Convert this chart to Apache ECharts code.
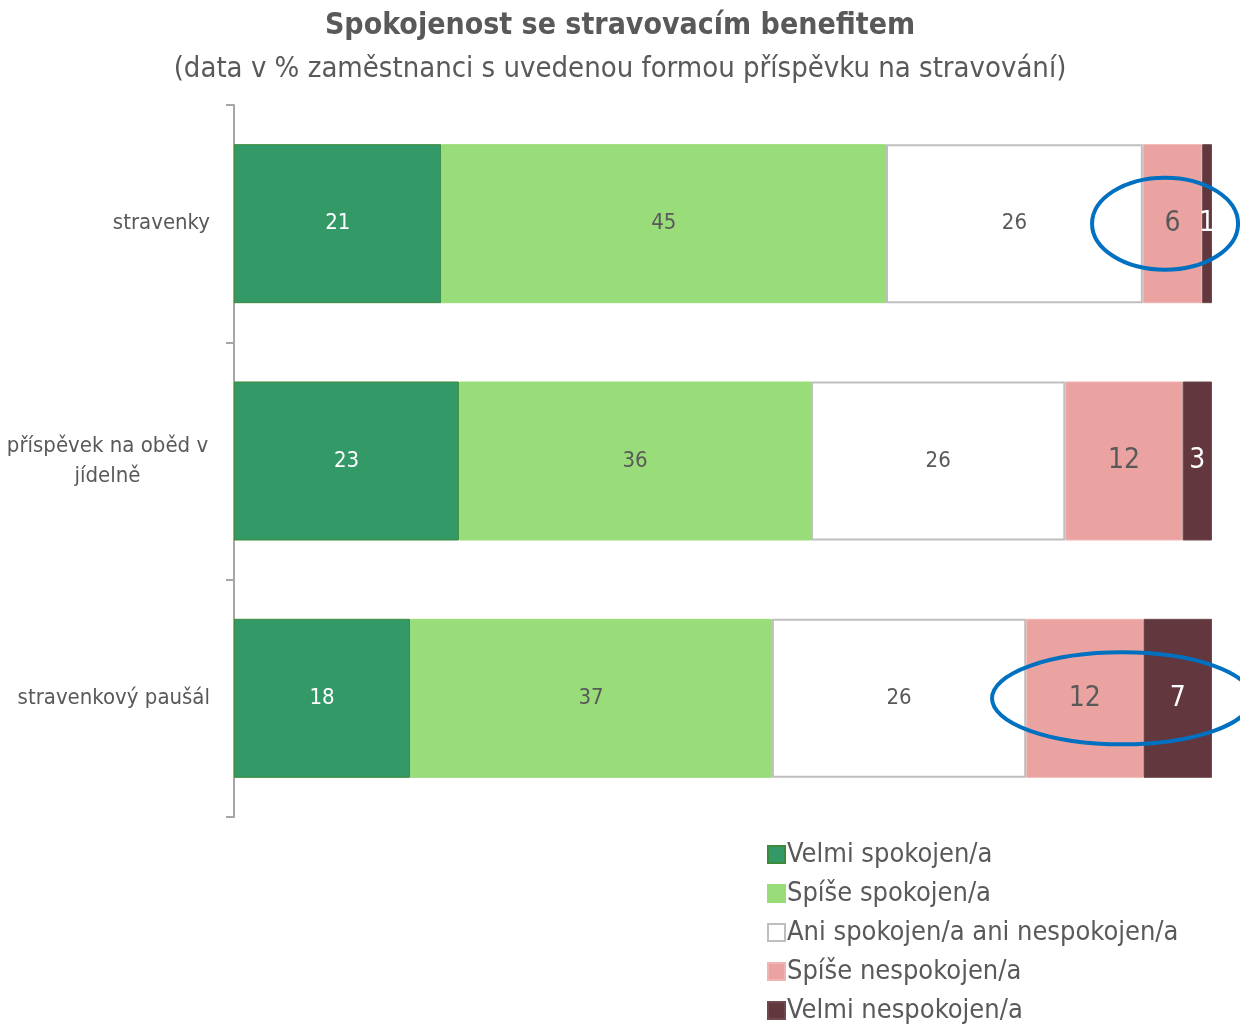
<!DOCTYPE html>
<html>
<head>
<meta charset="utf-8">
<script src="https://cdn.jsdelivr.net/npm/echarts@6/dist/echarts.min.js"></script>
<style>
  html, body { margin: 0; padding: 0; background: #fff; }
  #main { width: 1240px; height: 1027px; }
</style>
</head>
<body>
<div id="main"></div>
<script>
// kategorie (shora dolu)
const categories = ['stravenky', 'příspěvek na oběd v\njídelně', 'stravenkový paušál'];
const seriesNames = ['Velmi spokojen/a', 'Spíše spokojen/a', 'Ani spokojen/a ani nespokojen/a', 'Spíše nespokojen/a', 'Velmi nespokojen/a'];
const velmiSpokojen = [21, 23, 18];
const spiseSpokojen = [45, 36, 37];
const aniAni = [26, 26, 26];
const spiseNespokojen = [6, 12, 12];
const velmiNespokojen = [1, 3, 7];
// zvyraznene oblasti (kategorie, stred v %)
const highlightRows = [0, 2];
const highlightCenters = [95.2, 90.8];

const FONT = "'Liberation Sans Narrow', 'DejaVu Sans Condensed', sans-serif";
const GREY = '#595959';

const values = [velmiSpokojen, spiseSpokojen, aniAni, spiseNespokojen, velmiNespokojen];
const rowSums = categories.map((c, i) => values.reduce((s, v) => s + v[i], 0));

const colors = ['#339966', '#99DD7A', '#FFFFFF', '#EBA3A1', '#62373D'];
const borders = ['#3D8A3A', '#99DD7A', '#BFBFBF', '#F0B4B2', '#6E4A4E'];
const labelColors = ['#FFFFFF', GREY, GREY, GREY, '#FFFFFF'];
const labelSizes = [22, 22, 22, 28, 28];

var myChart = echarts.init(document.getElementById('main'));

let series = values.map(function (arr, k) {
    return {
        name: seriesNames[k],
        type: 'bar',
        stack: 'total',
        barWidth: '67%',
        itemStyle: {
            color: colors[k],
            borderColor: borders[k],
            borderWidth: k == 2 ? 2 : 1
        },
        label: {
            show: true,
            position: 'inside',
            color: labelColors[k],
            fontSize: labelSizes[k],
            fontFamily: FONT,
            formatter: function (p) { return arr[p.dataIndex]; }
        },
        data: arr.map(function (v, i) { return v / rowSums[i] * 100; })
    };
});

// modre elipsy
series.push({
    type: 'custom',
    name: 'highlight',
    silent: true,
    z: 10,
    clip: false,
    renderItem: function (params, api) {
        var c = api.coord([api.value(0), api.value(1)]);
        var rx = params.dataIndex == 0 ? 73 : 130;
        var ry = 46;
        var d = 'M' + (c[0] - rx) + ' ' + c[1] +
            ' A' + rx + ' ' + ry + ' 0 1 0 ' + (c[0] + rx) + ' ' + c[1] +
            ' A' + rx + ' ' + ry + ' 0 1 0 ' + (c[0] - rx) + ' ' + c[1] + ' Z';
        return {
            type: 'path',
            shape: { pathData: d },
            style: { fill: 'none', stroke: '#0070C0', lineWidth: 4 }
        };
    },
    encode: { x: 0, y: 1 },
    data: highlightRows.map(function (r, i) { return [highlightCenters[i], r]; })
});

var option = {
    animation: false,
    textStyle: { fontFamily: FONT },
    title: [
        {
            text: 'Spokojenost se stravovacím benefitem',
            left: 'center',
            top: 6,
            textStyle: { fontSize: 30, fontWeight: 'bold', color: GREY, fontFamily: FONT }
        },
        {
            text: '(data v % zaměstnanci s uvedenou formou příspěvku na stravování)',
            left: 'center',
            top: 50,
            textStyle: { fontSize: 29, fontWeight: 'normal', color: GREY, fontFamily: FONT }
        }
    ],
    legend: {
        orient: 'vertical',
        left: 762,
        top: 836,
        height: 260,
        itemWidth: 17,
        itemHeight: 17,
        itemGap: 12,
        icon: 'rect',
        data: seriesNames,
        textStyle: { fontSize: 27, color: GREY, fontFamily: FONT, padding: [0, 0, 0, -3] }
    },
    grid: { left: 234, right: 28, top: 105, bottom: 210, containLabel: false },
    xAxis: {
        type: 'value',
        min: 0,
        max: 100,
        show: false
    },
    yAxis: {
        type: 'category',
        inverse: true,
        data: categories,
        axisLine: { show: true, lineStyle: { color: '#A6A6A6', width: 2 } },
        axisTick: { show: true, length: 8, lineStyle: { color: '#A6A6A6', width: 2 } },
        axisLabel: {
            fontSize: 22,
            color: GREY,
            fontFamily: FONT,
            margin: 24,
            align: 'right',
            lineHeight: 30,
            formatter: function (v) {
                if (v.indexOf('\n') < 0) return v;
                return v.split('\n').map(function (s) { return '{c|' + s + '}'; }).join('\n');
            },
            rich: {
                c: { width: 205, align: 'center', fontSize: 22, color: GREY, fontFamily: FONT, lineHeight: 30 }
            }
        }
    },
    series: series
};

myChart.setOption(option);
</script>
</body>
</html>
